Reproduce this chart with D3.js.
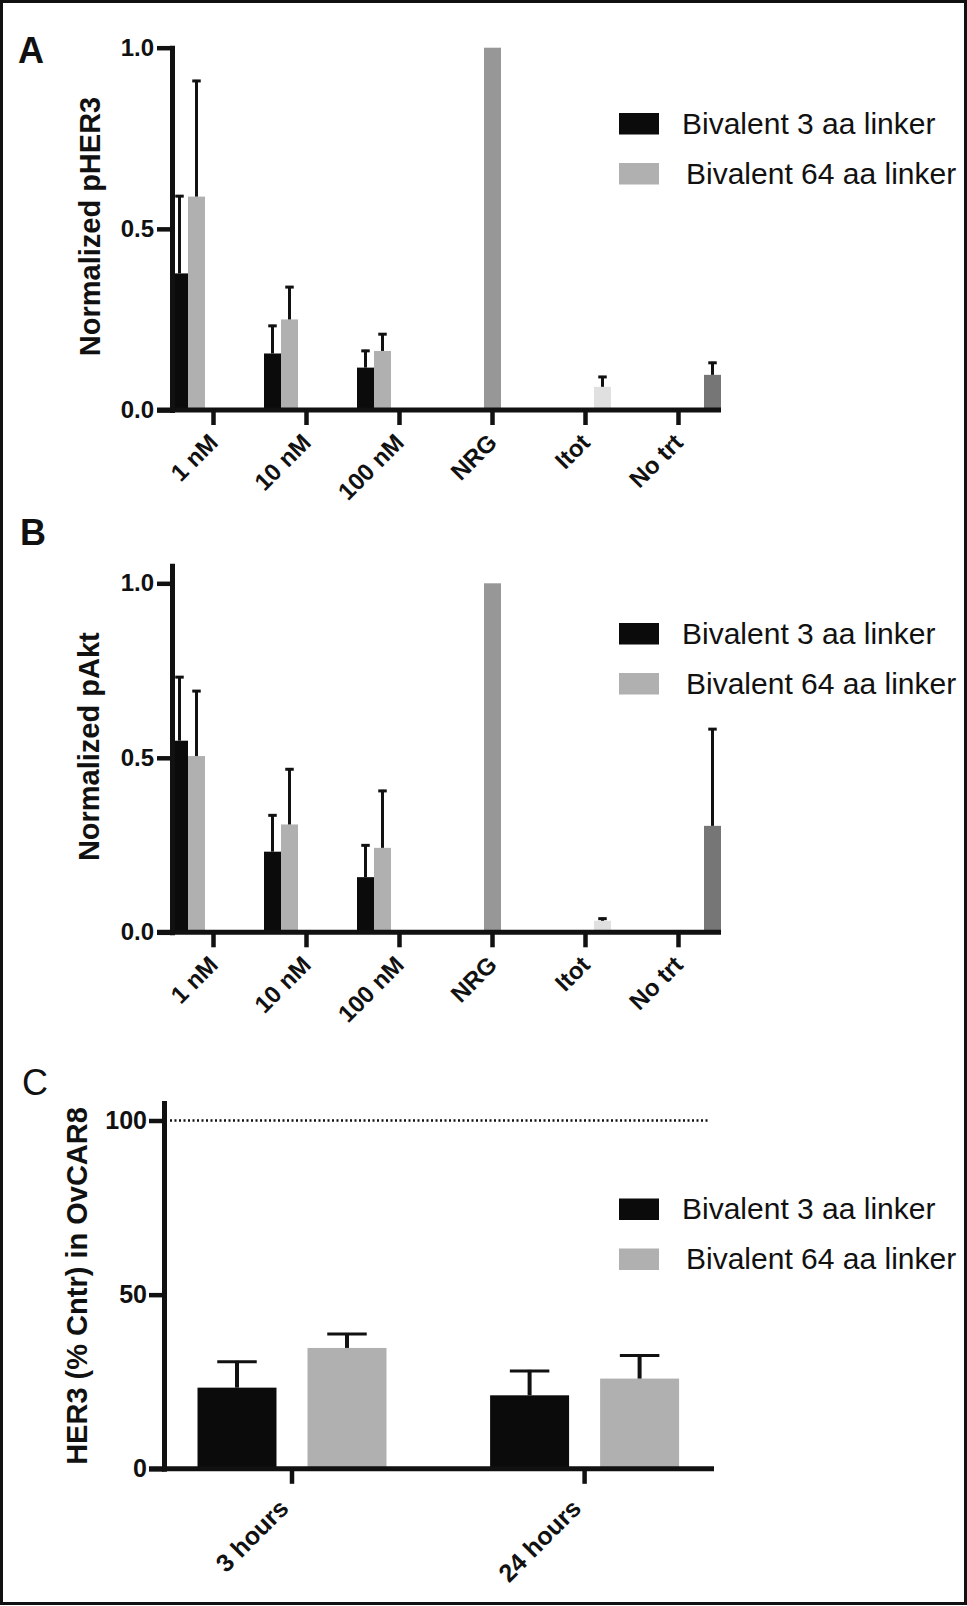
<!DOCTYPE html>
<html>
<head>
<meta charset="utf-8">
<script src="https://cdn.jsdelivr.net/npm/d3@7"></script>
<style>
  html, body { margin: 0; padding: 0; background: #fff; }
  svg { display: block; font-family: "Liberation Sans", Arial, sans-serif; }
</style>
</head>
<body>
<svg id="chart" width="967" height="1606"></svg>
<script>
// Categories and series
const catsAB = ["1 nM", "10 nM", "100 nM", "NRG", "Itot", "No trt"];
const concCats = ["1 nM", "10 nM", "100 nM"];
const ctrlCats = ["NRG", "Itot", "No trt"];
const seriesAB = ["Bivalent 3 aa linker", "Bivalent 64 aa linker", "NRG", "Itot", "No trt"];
const seriesColors = ["#0a0b0a", "#b0b0b0", "#979797", "#e0e0e0", "#767676"];
const legendLabels = ["Bivalent 3 aa linker", "Bivalent 64 aa linker"];

// Panel A: normalized pHER3 (mean, error above mean)
const pher3Bival3 = [0.377, 0.156, 0.117];
const pher3Bival3Err = [0.216, 0.079, 0.049];
const pher3Bival64 = [0.589, 0.250, 0.163];
const pher3Bival64Err = [0.322, 0.092, 0.049];
const pher3Ctrl = [1.0, 0.064, 0.097];
const pher3CtrlErr = [0, 0.030, 0.036];

// Panel B: normalized pAkt
const paktBival3 = [0.549, 0.231, 0.158];
const paktBival3Err = [0.185, 0.107, 0.094];
const paktBival64 = [0.505, 0.309, 0.242];
const paktBival64Err = [0.189, 0.161, 0.166];
const paktCtrl = [1.0, 0.033, 0.305];
const paktCtrlErr = [0, 0.009, 0.280];

// Panel C: HER3 (% of control) in OvCAR8
const catsC = ["3 hours", "24 hours"];
const her3Bival3 = [23.3, 21.1];
const her3Bival3Err = [7.7, 7.3];
const her3Bival64 = [34.7, 25.9];
const her3Bival64Err = [4.3, 6.9];

const ticksAB = [0, 0.5, 1.0];
const ticksC = [0, 50, 100];

const svg = d3.select("#chart");
const ink = "#111";

// page border
svg.append("rect")
  .attr("x", 1.5).attr("y", 1.5)
  .attr("width", 964).attr("height", 1602)
  .attr("fill", "none").attr("stroke", ink).attr("stroke-width", 3);

const rowsAB = (b3, b3e, b64, b64e, ctrl, ctrlE) => {
  const rows = [];
  concCats.forEach((c, i) => {
    rows.push({cat: c, series: seriesAB[0], value: b3[i], err: b3e[i]});
    rows.push({cat: c, series: seriesAB[1], value: b64[i], err: b64e[i]});
  });
  ctrlCats.forEach((c, i) => {
    rows.push({cat: c, series: seriesAB[i + 2], value: ctrl[i], err: ctrlE[i]});
  });
  return rows;
};

const legend = (y0) => {
  const g = svg.append("g");
  legendLabels.forEach((label, i) => {
    g.append("rect")
      .attr("x", 619).attr("y", y0 + i * 50)
      .attr("width", 40).attr("height", 21.5)
      .attr("fill", seriesColors[i]);
    g.append("text")
      .attr("x", 682 + i * 4).attr("y", y0 + i * 50 + 20.5)
      .style("font-size", "30px").attr("fill", ink)
      .text(label);
  });
};

const letter = (t, x, y, weight) => {
  svg.append("text")
    .attr("x", x).attr("y", y)
    .style("font-size", "36px").attr("font-weight", weight).attr("fill", ink)
    .text(t);
};

const yLabel = (t, x, y, size) => {
  svg.append("text")
    .attr("transform", `translate(${x},${y}) rotate(-90)`)
    .attr("text-anchor", "middle")
    .style("font-size", size + "px").attr("font-weight", "bold").attr("fill", ink)
    .text(t);
};

const styleAxis = (g, fontSize) => {
  g.attr("font-size", null).attr("font-family", null);
  g.selectAll(".tick line").attr("stroke", ink).attr("stroke-width", 4.5);
  g.selectAll(".domain").attr("stroke", ink).attr("stroke-width", 5).attr("stroke-linecap", "square");
  g.selectAll("text")
    .style("font-family", "'Liberation Sans', Arial, sans-serif")
    .style("font-size", fontSize + "px")
    .style("font-weight", "bold")
    .attr("fill", ink);
};

const drawBars = (rows, x, sub, y, errWidth) => {
  const g = svg.append("g");
  const cx = (d) => x(d.cat) + x.bandwidth() / 2 + sub(d.series);
  g.selectAll("rect")
    .data(rows)
    .join("rect")
      .attr("x", cx)
      .attr("y", (d) => y(d.value))
      .attr("width", sub.bandwidth())
      .attr("height", (d) => y(0) - y(d.value))
      .attr("fill", (d) => seriesColors[seriesAB.indexOf(d.series)]);

  const e = g.selectAll("g.err")
    .data(rows.filter((d) => d.err > 0))
    .join("g").attr("class", "err")
      .attr("stroke", ink);
  e.append("line")
    .attr("x1", (d) => cx(d) + sub.bandwidth() / 2)
    .attr("x2", (d) => cx(d) + sub.bandwidth() / 2)
    .attr("y1", (d) => y(d.value))
    .attr("y2", (d) => y(d.value + d.err))
    .attr("stroke-width", errWidth);
  e.append("line")
    .attr("x1", (d) => cx(d) + sub.bandwidth() / 4)
    .attr("x2", (d) => cx(d) + sub.bandwidth() * 3 / 4)
    .attr("y1", (d) => y(d.value + d.err) + 1)
    .attr("y2", (d) => y(d.value + d.err) + 1)
    .attr("stroke-width", 3);
};

// Panels A and B
const panelAB = (rows, y, axisX, xEnd, title, titleX, titleY) => {
  const x = d3.scaleBand().domain(catsAB).range([167, 725]);
  const sub = d3.scaleBand().domain(seriesAB).range([-42.5, 42.5]);

  drawBars(rows, x, sub, y, 3);

  // x axis
  const gx = svg.append("g")
    .attr("transform", `translate(0,${y(0)})`)
    .call(d3.axisBottom(x).tickSize(15).tickSizeOuter(0));
  gx.select(".domain").remove();
  gx.append("line")
    .attr("x1", axisX - 15).attr("x2", xEnd)
    .attr("stroke", ink).attr("stroke-width", 5);
  styleAxis(gx, 24);
  gx.selectAll(".tick text")
    .attr("x", 0).attr("y", 0).attr("dy", 0)
    .attr("text-anchor", "end")
    .attr("transform", "translate(6,34) rotate(-45)");

  // y axis
  const gy = svg.append("g")
    .attr("transform", `translate(${axisX},0)`)
    .call(d3.axisLeft(y).tickValues(ticksAB).tickFormat(d3.format(".1f"))
      .tickSize(15).tickPadding(3).tickSizeOuter(0));
  styleAxis(gy, 24);

  yLabel(title, titleX, titleY, 29);
};

const yA = d3.scaleLinear().domain([0, 1]).range([410, 47.7]);
panelAB(rowsAB(pher3Bival3, pher3Bival3Err, pher3Bival64, pher3Bival64Err, pher3Ctrl, pher3CtrlErr),
  yA, 172, 721, "Normalized pHER3", 100, 226.5);
letter("A", 18, 63, "bold");
legend(113);

const yB = d3.scaleLinear().domain([0, 1.05]).range([932.3, 932.3 - 1.05 * 349]);
panelAB(rowsAB(paktBival3, paktBival3Err, paktBival64, paktBival64Err, paktCtrl, paktCtrlErr),
  yB, 172, 721, "Normalized pAkt", 99, 746.7);
letter("B", 20, 545, "bold");
legend(623);

// Panel C
const xC = d3.scaleBand().domain(catsC).range([145.7, 730.9]);
const subC = d3.scaleBand().domain(seriesAB.slice(0, 2)).range([-110, 110])
  .paddingInner(0.282).paddingOuter(0.141);
const yC = d3.scaleLinear().domain([0, 105]).range([1468.8, 1468.8 - 105 * 3.483]);

const rowsC = [];
catsC.forEach((c, i) => {
  rowsC.push({cat: c, series: seriesAB[0], value: her3Bival3[i], err: her3Bival3Err[i]});
  rowsC.push({cat: c, series: seriesAB[1], value: her3Bival64[i], err: her3Bival64Err[i]});
});

// 100 % reference line
svg.append("line")
  .attr("x1", 170).attr("x2", 709)
  .attr("y1", yC(100)).attr("y2", yC(100))
  .attr("stroke", ink).attr("stroke-width", 2.5)
  .attr("stroke-dasharray", "2 2.5");

drawBars(rowsC, xC, subC, yC, 4);

const gxC = svg.append("g")
  .attr("transform", `translate(0,${yC(0)})`)
  .call(d3.axisBottom(xC).tickSize(15).tickSizeOuter(0));
gxC.select(".domain").remove();
gxC.append("line")
  .attr("x1", 149).attr("x2", 714)
  .attr("stroke", ink).attr("stroke-width", 5);
styleAxis(gxC, 25);
gxC.selectAll(".tick text")
  .attr("x", 0).attr("y", 0).attr("dy", 0)
  .attr("text-anchor", "end")
  .attr("transform", "translate(-2,41) rotate(-45)");

const gyC = svg.append("g")
  .attr("transform", "translate(164,0)")
  .call(d3.axisLeft(yC).tickValues(ticksC).tickSize(15).tickPadding(2).tickSizeOuter(0));
styleAxis(gyC, 25);

yLabel("HER3 (% Cntr) in OvCAR8", 87, 1286, 29);
letter("C", 22, 1095, "normal");
legend(1198.5);
</script>
</body>
</html>
